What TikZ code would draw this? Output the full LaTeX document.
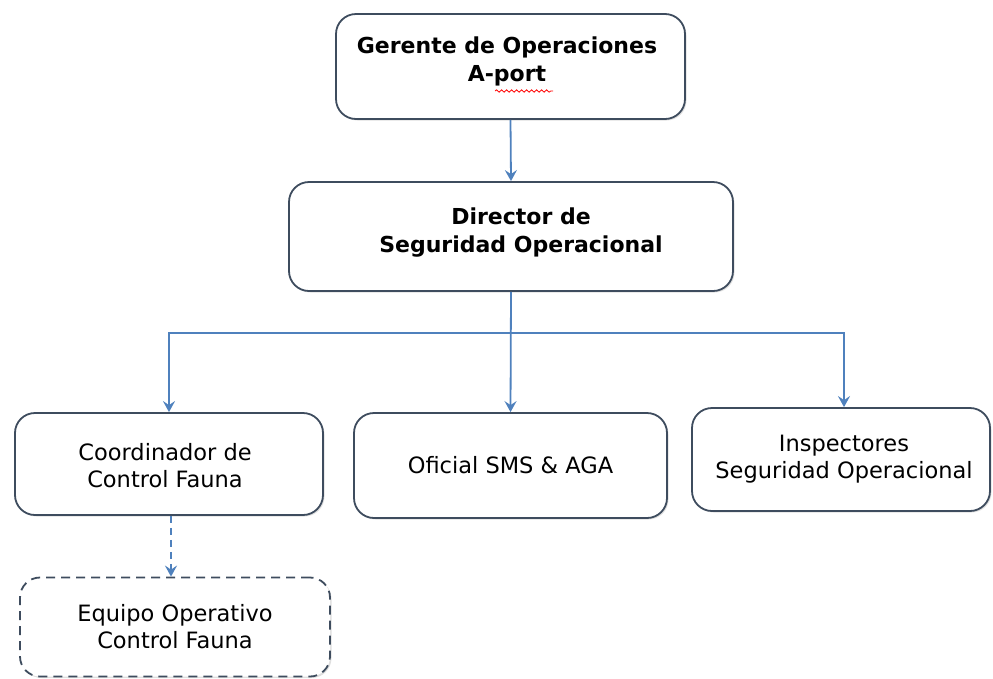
\documentclass[tikz,border=0pt]{standalone}
\usepackage{fontspec}
\setmainfont{DejaVu Sans}
\usetikzlibrary{arrows.meta,shadows,decorations.pathmorphing}
\definecolor{boxline}{HTML}{3E4C5E}
\definecolor{connblue}{HTML}{4F81BD}
\tikzset{
  orgbox/.style={draw=boxline, line width=1.8pt, rounded corners=20pt, fill=white,
    align=center, inner sep=0pt,
    drop shadow={opacity=0.25, shadow xshift=1.5pt, shadow yshift=-1.5pt}},
  boldtxt/.style={font=\fontsize{22}{28}\selectfont\bfseries},
  regtxt/.style={font=\fontsize{22.5}{27}\selectfont},
  conn/.style={draw=connblue, line width=1.8pt, -{Stealth[length=11pt,width=12pt,inset=4pt]}},
}
\begin{document}
\begin{tikzpicture}[x=1pt,y=-1pt]
\useasboundingbox (0,0) rectangle (993,678);
\node[orgbox, minimum width=349pt, minimum height=105pt] (top) at (510.5,66.5) {};
\node[boldtxt, align=center] (toptxt) at (507,61) {Gerente de Operaciones\\A-port};
\draw[red, line width=0.8pt, decorate, decoration={snake, amplitude=1.2pt, segment length=5pt}] (495,91) -- (553,91);
\node[orgbox, minimum width=444pt, minimum height=109pt] (dir) at (511,236.5) {};
\node[boldtxt, align=center] (dirtxt) at (521,233) {Director de\\Seguridad\ Operacional};
\node[orgbox, minimum width=308pt, minimum height=102pt] (left) at (169,464) {};
\node[regtxt, align=center] (lefttxt) at (165,466) {Coordinador de\\Control Fauna};
\node[orgbox, regtxt, minimum width=313pt, minimum height=105pt] (mid) at (510.5,465.5) {Oficial SMS \& AGA};
\node[orgbox, minimum width=298pt, minimum height=103pt] (right) at (841,459.5) {};
\node[regtxt, align=center] (righttxt) at (844,459.5) {Inspectores\\Seguridad Operacional};
\node[orgbox, regtxt, dashed, dash pattern=on 9pt off 6pt, minimum width=310pt, minimum height=99pt] (team) at (175,627) {Equipo Operativo\\Control Fauna};
\coordinate (j) at (511,333);
\draw[conn] (top.south) -- (dir.north);
\draw[conn] (dir.south) -- (mid.north);
\draw[conn] (j) -| (left.north);
\draw[conn] (j) -| ([xshift=3pt]right.north);
\draw[conn, dashed, dash pattern=on 7pt off 5pt] ([xshift=2pt]left.south) -- ([xshift=2pt]left.south |- team.north);
\end{tikzpicture}
\end{document}
